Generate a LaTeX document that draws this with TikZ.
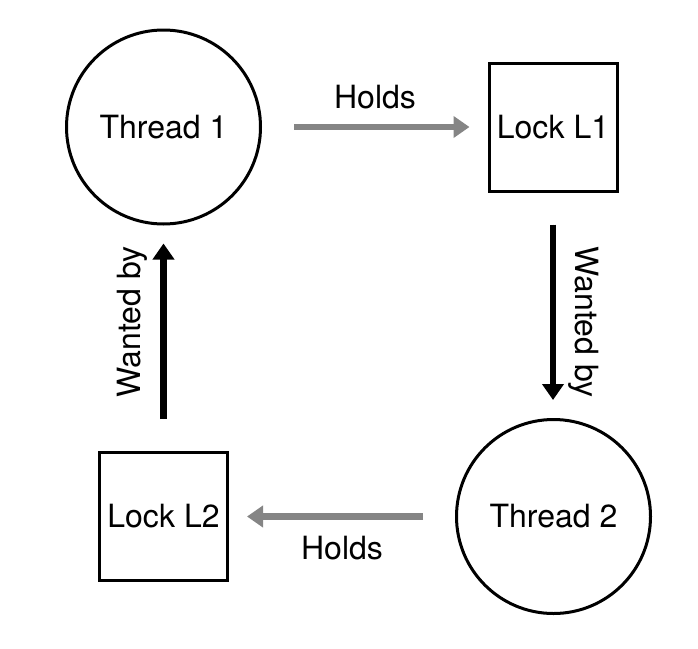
\documentclass[tikz,border=0pt]{standalone}
\usepackage{fontspec}
\setmainfont{TeX Gyre Heros}
\usetikzlibrary{arrows.meta}
\definecolor{holdgray}{HTML}{858585}
\begin{document}
\begin{tikzpicture}[x=1pt,y=-1pt,
  every node/.style={font=\fontsize{32}{38}\selectfont, inner sep=0pt},
  thread/.style={draw=black, line width=3pt, circle, minimum size=194pt},
  lock/.style={draw=black, line width=3pt, rectangle, minimum size=128pt},
  conn/.style={line width=6.5pt, shorten <=32pt, shorten >=18pt,
    -{Triangle[length=16pt,width=21pt]}},
  holdsarrow/.style={conn, draw=holdgray, fill=holdgray},
  wantarrow/.style={conn, draw=black, fill=black}]
\useasboundingbox (0,0) rectangle (698,648);
\node[thread] (t1) at (163.5,127) {Thread 1};
\node[lock]   (l1) at (553,127) {Lock L1};
\node[thread] (t2) at (553.5,516.5) {Thread 2};
\node[lock]   (l2) at (163.5,516.5) {Lock L2};
\draw[holdsarrow] (t1.east) -- (l1.west);
\draw[wantarrow]  (l1.south) -- (l1.south |- t2.north);
\draw[holdsarrow] (t2.west) -- (l2.east);
\draw[wantarrow]  (l2.north) -- (l2.north |- t1.south);
\node (h1) at (375,97.5) {Holds};
\node (h2) at (342,548) {Holds};
\node[rotate=-90] (w1) at (584,322) {Wanted by};
\node[rotate=90]  (w2) at (132.5,322) {Wanted by};
\end{tikzpicture}
\end{document}
